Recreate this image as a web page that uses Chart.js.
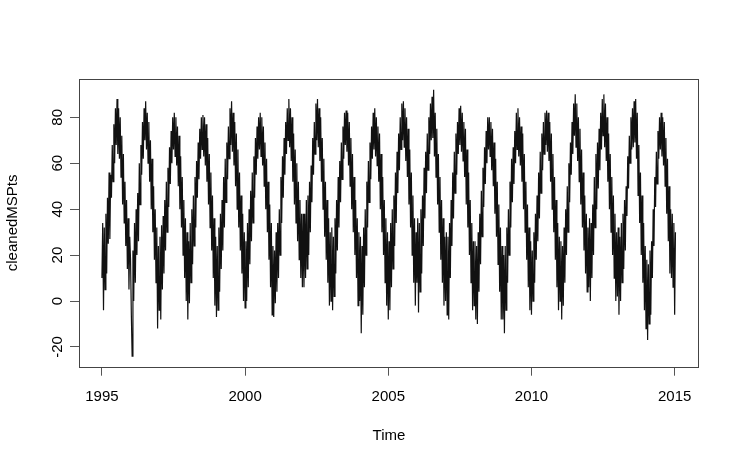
<!DOCTYPE html>
<html>
<head>
<meta charset="utf-8">
<script src="https://cdn.jsdelivr.net/npm/chart.js@4.4.1/dist/chart.umd.min.js"></script>
<style>
  html, body { margin: 0; padding: 0; background: #fff; }
  canvas { display: block; }
</style>
</head>
<body>
<canvas id="ts" width="740" height="465"></canvas>
<script>
"use strict";

// readings, about 10 days apart (36 per year), starting 1 Jan of each year
const START_YEAR = 1995;
const PER_YEAR = 36;

const t1995 = [10, 34, -4, 32, 5, 38, 12, 45, 25, 56, 27, 55, 45, 68, 52, 77, 60, 84, 68, 88, 64, 84, 62, 80, 54, 72, 42, 64, 34, 52, 24, 44, 14, 36, 5, 28];
const t1996 = [18, -6, -24, 22, 0, 34, 8, 40, 20, 47, 26, 60, 42, 68, 55, 78, 62, 84, 70, 87, 66, 82, 60, 78, 52, 70, 40, 62, 30, 50, 18, 40, 8, 32, -12, 24];
const t1997 = [-4, 28, -8, 33, 5, 37, 12, 44, 22, 52, 30, 58, 41, 67, 51, 74, 60, 80, 66, 82, 63, 80, 59, 76, 50, 72, 40, 63, 32, 54, 20, 44, 10, 36, 0, 30];
const t1998 = [-8, 26, -1, 34, 8, 40, 16, 46, 24, 54, 32, 61, 45, 69, 53, 75, 62, 80, 66, 81, 63, 80, 59, 77, 52, 71, 42, 64, 32, 56, 22, 46, 10, 36, -2, 28];
const t1999 = [-7, 24, -4, 32, 4, 38, 14, 44, 22, 54, 32, 62, 43, 69, 53, 76, 62, 84, 68, 87, 65, 82, 59, 78, 50, 73, 40, 66, 32, 56, 22, 46, 12, 38, 0, 30];
const t2000 = [-3, 26, 0, 34, 6, 40, 16, 48, 26, 56, 34, 63, 45, 71, 55, 76, 62, 80, 66, 82, 63, 80, 59, 76, 50, 69, 40, 62, 30, 52, 18, 42, 6, 34, -6, 24];
const t2001 = [-7, 22, -1, 30, 4, 34, 10, 40, 20, 54, 34, 63, 45, 71, 55, 78, 64, 84, 70, 88, 67, 84, 61, 80, 52, 73, 42, 66, 34, 60, 26, 52, 18, 44, 10, 38];
const t2002 = [6, 38, 6, 38, 10, 44, 14, 46, 20, 52, 30, 59, 43, 71, 55, 78, 64, 86, 70, 88, 67, 84, 61, 80, 52, 71, 40, 62, 28, 52, 18, 44, 8, 36, -2, 30];
const t2003 = [0, 32, -4, 28, 2, 36, 12, 44, 22, 54, 32, 61, 43, 69, 53, 76, 62, 82, 68, 83, 65, 82, 59, 78, 50, 71, 40, 64, 30, 54, 20, 44, 10, 36, -2, 30];
const t2004 = [0, 28, -14, 24, -6, 32, 6, 40, 20, 52, 32, 61, 43, 69, 53, 76, 62, 82, 66, 84, 63, 80, 59, 76, 52, 73, 40, 64, 30, 54, 20, 44, 8, 36, -2, 30];
const t2005 = [-8, 26, -4, 34, 6, 40, 14, 46, 24, 56, 34, 65, 47, 73, 57, 80, 66, 86, 70, 87, 67, 84, 61, 80, 54, 75, 42, 66, 32, 56, 20, 46, 8, 36, -2, 30];
const t2006 = [8, 36, -5, 34, 4, 40, 12, 46, 24, 58, 36, 65, 47, 73, 57, 80, 64, 86, 70, 89, 71, 92, 63, 82, 54, 75, 42, 64, 30, 54, 18, 44, 8, 36, -2, 28];
const t2007 = [0, 30, -6, 28, -8, 34, 10, 44, 24, 56, 36, 65, 47, 73, 55, 78, 64, 84, 68, 85, 65, 82, 61, 78, 54, 75, 42, 66, 32, 56, 20, 44, 8, 34, -4, 26];
const t2008 = [-2, 26, -8, 24, -10, 30, 4, 38, 16, 48, 28, 58, 41, 67, 51, 74, 60, 80, 66, 80, 63, 78, 57, 75, 50, 69, 38, 62, 28, 52, 16, 42, 4, 32, -8, 24];
const t2009 = [-8, 20, -14, 24, -4, 32, 8, 40, 20, 52, 32, 62, 43, 67, 51, 74, 60, 82, 66, 84, 63, 80, 59, 76, 52, 73, 40, 64, 30, 52, 18, 42, 6, 32, -4, 26];
const t2010 = [-6, 22, 0, 30, 8, 38, 18, 46, 26, 56, 36, 65, 47, 73, 57, 78, 64, 82, 68, 83, 65, 82, 61, 78, 52, 73, 40, 64, 30, 54, 18, 44, 6, 34, -4, 28];
const t2011 = [0, 26, -8, 24, -2, 32, 8, 40, 20, 50, 30, 60, 43, 69, 55, 78, 64, 86, 72, 90, 67, 86, 61, 80, 52, 75, 42, 66, 32, 56, 22, 46, 12, 38, 4, 32];
const t2012 = [6, 36, 0, 34, 10, 42, 20, 54, 32, 64, 40, 69, 49, 75, 57, 82, 66, 88, 72, 90, 67, 86, 61, 80, 52, 73, 40, 64, 30, 54, 20, 46, 10, 38, 0, 30];
const t2013 = [2, 32, -6, 28, 0, 34, 8, 38, 14, 44, 22, 50, 37, 63, 49, 72, 60, 80, 66, 84, 67, 87, 69, 88, 62, 82, 46, 68, 34, 56, 20, 46, 8, 34, -4, 24];
const t2014 = [-12, 18, -17, 16, -10, 22, -6, 26, 10, 40, 24, 54, 41, 65, 51, 74, 62, 80, 66, 82, 63, 80, 59, 78, 50, 71, 38, 62, 26, 50, 12, 40, 10, 38, 6, 34];
const t2015 = [-6, 30];

const yearSeries = [t1995, t1996, t1997, t1998, t1999, t2000, t2001, t2002, t2003, t2004,
  t2005, t2006, t2007, t2008, t2009, t2010, t2011, t2012, t2013, t2014, t2015];

const xTicks = [1995, 2000, 2005, 2010, 2015];
const yTicks = [-20, 0, 20, 40, 60, 80];

const points = [];
yearSeries.forEach((vals, k) => {
  vals.forEach((v, i) => points.push({ x: START_YEAR + k + i / PER_YEAR, y: v }));
});

const FONT = { family: "'Liberation Sans', Arial, sans-serif", size: 15 };

// R-style box round the plot region
const boxPlugin = {
  id: "box",
  afterDraw(chart) {
    const a = chart.chartArea;
    const ctx = chart.ctx;
    ctx.save();
    ctx.strokeStyle = "#444";
    ctx.lineWidth = 1;
    ctx.strokeRect(Math.round(a.left) + 0.5, Math.round(a.top) + 0.5,
      Math.round(a.right - a.left) - 1, Math.round(a.bottom - a.top));
    ctx.restore();
  },
};

new Chart(document.getElementById("ts"), {
  type: "line",
  data: {
    datasets: [{
      data: points,
      borderColor: "#111",
      borderWidth: 1.2,
      pointRadius: 0,
      tension: 0,
      fill: false,
    }],
  },
  options: {
    responsive: false,
    animation: false,
    devicePixelRatio: 1,
    layout: { padding: { top: 79, right: 41, left: 0, bottom: 0 } },
    plugins: { legend: { display: false }, tooltip: { enabled: false } },
    scales: {
      x: {
        type: "linear",
        min: 1994.2,
        max: 2015.85,
        afterBuildTicks: (s) => { s.ticks = xTicks.map((v) => ({ value: v })); },
        afterFit: (s) => { s.height = 98.3; },
        border: { display: false },
        grid: { drawOnChartArea: false, drawTicks: true, tickLength: 9, color: "#555" },
        ticks: { color: "#000", font: FONT, padding: 12, maxRotation: 0, callback: (v) => String(v) },
        title: { display: true, text: "Time", color: "#000", font: FONT, padding: { top: 0, bottom: 20 } },
      },
      y: {
        min: -28.6,
        max: 96.7,
        afterBuildTicks: (s) => { s.ticks = yTicks.map((v) => ({ value: v })); },
        afterFit: (s) => { s.width = 79; },
        border: { display: false },
        grid: { drawOnChartArea: false, drawTicks: true, tickLength: 9, color: "#555" },
        ticks: { color: "#000", font: FONT, padding: 1, minRotation: 90, maxRotation: 90, crossAlign: "center" },
        title: { display: true, text: "cleanedMSPts", color: "#000", font: FONT, padding: { top: 3.5, bottom: 0 } },
      },
    },
  },
  plugins: [boxPlugin],
});
</script>
</body>
</html>
